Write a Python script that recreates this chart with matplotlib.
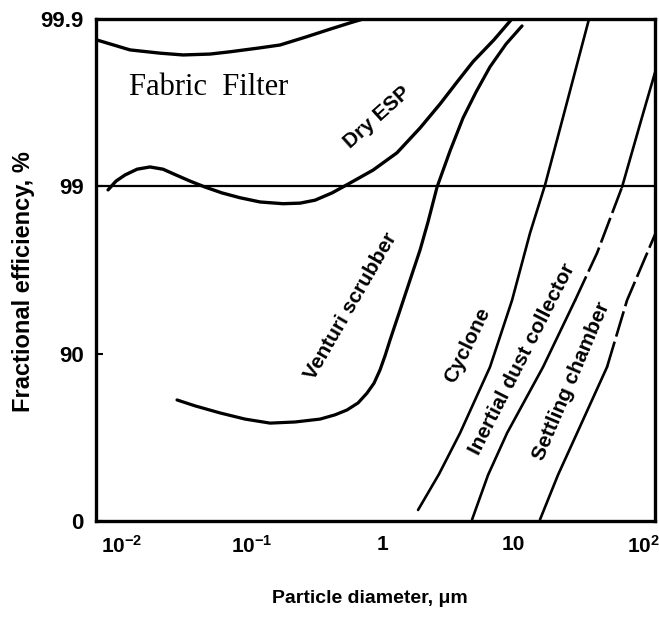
import numpy as np
import matplotlib
matplotlib.use('Agg')
import matplotlib.pyplot as plt
from matplotlib.ticker import NullLocator

# particle diameter (um) and fractional efficiency (%)
fabric_d = [0.00634, 0.01156, 0.01963, 0.02946, 0.0475, 0.0676, 0.1127, 0.1633, 0.2587, 0.395, 0.573, 0.773]
fabric_eff = [99.867, 99.847, 99.840, 99.836, 99.838, 99.843, 99.851, 99.857, 99.872, 99.885, 99.895, 99.902]

esp_d = [0.00784, 0.00903, 0.01059, 0.01309, 0.01644, 0.0207, 0.0260, 0.0333, 0.0435, 0.0587,
         0.0806, 0.1148, 0.1723, 0.2327, 0.303, 0.409, 0.543, 0.844, 1.289, 1.936,
         2.756, 3.72, 4.93, 7.15, 10.36]
esp_eff = [98.95, 99.07, 99.145, 99.21, 99.234, 99.21, 99.145, 99.07, 98.99, 98.905,
           98.83, 98.76, 98.73, 98.74, 98.79, 98.905, 99.03, 99.20, 99.37, 99.552,
           99.678, 99.762, 99.82, 99.867, 99.905]

venturi_d = [0.0265, 0.0364, 0.0566, 0.0881, 0.137, 0.2129, 0.331, 0.4315, 0.533, 0.6477,
             0.759, 0.859, 0.955, 1.043, 1.139, 1.245, 1.359, 1.622, 1.936, 2.229,
             2.613, 3.288, 4.136, 5.204, 6.66, 8.84, 11.72]
venturi_eff = [81.1, 79.5, 77.4, 75.4, 74.0, 74.4, 75.4, 76.8, 78.3, 80.3,
               82.8, 85.0, 87.5, 89.7, 91.7, 93.26, 94.5, 96.37, 97.6, 98.37,
               98.99, 99.386, 99.61, 99.727, 99.807, 99.859, 99.89]

cyclone_d = [1.869, 2.707, 3.923, 6.66, 9.82, 13.5, 17.6, 24.2, 38.9]
cyclone_eff = [14.1, 47.6, 70.2, 88.0, 95.2, 98.1, 99.02, 99.615, 99.905]

inertial_d = [4.85, 6.43, 9.0, 17.0, 29.9, 44.1, 68.5, 97.6, 127.0]
inertial_eff = [2.0, 46.9, 70.2, 88.0, 95.2, 97.5, 98.99, 99.615, 99.81]

settling_d = [16.1, 22.1, 30.97, 52.6, 74.8, 127.0]
settling_eff = [2.0, 46.9, 70.2, 88.0, 95.2, 98.18]

y_ticks = [0, 90, 99, 99.9]
y_labels = ['0', '90', '99', '99.9']
x_ticks = [0.01, 0.1, 1, 10, 100]
x_labels = [r'$\mathregular{10^{-2}}$', r'$\mathregular{10^{-1}}$', '1', '10', r'$\mathregular{10^{2}}$']


# efficiency axis: equal spacing per decade of penetration
def eff_forward(e):
    e = np.asarray(e, dtype=float)
    return 2 - np.log10(np.clip(100 - e, 1e-6, None))


def eff_inverse(t):
    t = np.asarray(t, dtype=float)
    return 100 - 10 ** (2 - t)


sans = ['Liberation Sans', 'DejaVu Sans']
narrow = ['Liberation Sans Narrow', 'Liberation Sans', 'DejaVu Sans']

fig = plt.figure(figsize=(6.59, 6.19), dpi=100)
ax = fig.add_axes([0.1457, 0.1583, 0.994 - 0.1457, 0.9693 - 0.1583])
ax.set_xscale('log')
ax.set_yscale('function', functions=(eff_forward, eff_inverse))
ax.set_xlim(0.00634, 122.7)
ax.set_ylim(0, 99.9)

k = dict(color='black', solid_capstyle='round')
ax.plot(fabric_d, fabric_eff, lw=2.4, **k)
ax.plot(esp_d, esp_eff, lw=2.4, **k)
ax.plot(venturi_d, venturi_eff, lw=2.3, **k)
ax.plot(cyclone_d, cyclone_eff, lw=1.9, **k)
# inertial collector: solid, dashed middle stretch, solid again
ax.plot(inertial_d[:5], inertial_eff[:5], lw=1.9, **k)
ax.plot(inertial_d[4:7], inertial_eff[4:7], lw=1.9, dashes=(10, 2), color='black')
ax.plot(inertial_d[6:], inertial_eff[6:], lw=1.9, **k)
ax.plot(settling_d[:4], settling_eff[:4], lw=1.9, **k)
ax.plot(settling_d[3:], settling_eff[3:], lw=1.9, dashes=(10, 2), color='black')

ax.axhline(99, color='black', lw=1.6)

# curve labels
ax.text(0.0467, 99.745, 'Fabric  Filter', family=['Liberation Serif', 'DejaVu Serif'],
        fontsize=22, ha='center', va='center')
lab = dict(family=sans, fontsize=15, fontweight='bold', ha='center', va='center',
           rotation_mode='anchor')
ax.text(0.906, 99.61, 'Dry ESP', rotation=42, **lab)
ax.text(0.573, 94.8, 'Venturi scrubber', rotation=60, **lab)
ax.text(4.44, 91.1, 'Cyclone', rotation=64, **lab)
ax.text(11.7, 89.2, 'Inertial dust collector', rotation=63, **lab)
ax.text(28.1, 85.4, 'Settling chamber', rotation=67, **lab)

ax.set_yticks(y_ticks)
ax.set_yticklabels(y_labels, family=narrow, fontsize=16, fontweight='bold')
ax.set_xticks(x_ticks)
ax.set_xticklabels(x_labels, family=narrow, fontsize=15, fontweight='bold')
ax.xaxis.set_minor_locator(NullLocator())
ax.yaxis.set_minor_locator(NullLocator())
ax.tick_params(axis='y', direction='in', length=5, width=1.5, pad=9)
ax.tick_params(axis='x', length=0, pad=10)

for s in ax.spines.values():
    s.set_linewidth(2.4)

ax.set_ylabel('Fractional efficiency, %', family=sans, fontsize=17, fontweight='bold')
ax.yaxis.set_label_coords(-0.109, 0.476)
ax.set_xlabel('Particle diameter, \u03bcm', family=sans, fontsize=14, fontweight='bold')
ax.xaxis.set_label_coords(0.49, -0.137)

fig.savefig('out.png', dpi=100)
